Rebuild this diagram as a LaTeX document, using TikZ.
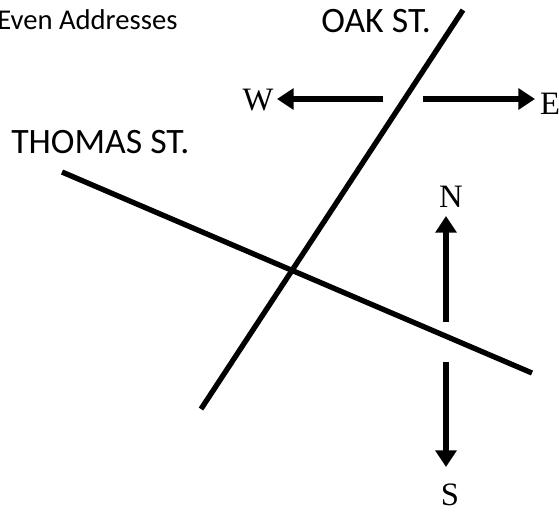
\documentclass[tikz,border=0pt]{standalone}
\usepackage{fontspec}
\setmainfont{Liberation Serif}
\newfontfamily\labelsans{Carlito}
\usetikzlibrary{arrows.meta}
\tikzset{
  road/.style={line width=4pt, line cap=butt},
  dirarrow/.style={line width=4.2pt, -{Triangle[length=12.5pt,width=15.5pt]}},
  streetlabel/.style={inner sep=0pt, anchor=base west, font=\labelsans\fontsize{26.8pt}{30pt}\selectfont},
  notelabel/.style={inner sep=0pt, anchor=base west, font=\labelsans\fontsize{21.5pt}{24pt}\selectfont},
  compass/.style={inner sep=0pt, anchor=base, font=\fontsize{24.5pt}{28pt}\selectfont}
}
\begin{document}
\begin{tikzpicture}[x=0.75pt,y=-0.75pt]
\useasboundingbox (0,0) rectangle (559,512);
% labels
\node[notelabel] (even) at (-3,29) {Even Addresses};
\node[streetlabel] (oak) at (321,32) {OAK ST.};
\node[streetlabel] (thomas) at (11,153) {THOMAS ST.};
\node[compass] (W) at (258,110) {W};
\node[compass] (E) at (550,114) {E};
\node[compass] (N) at (451,207) {N};
\node[compass] (S) at (450,505) {S};
% streets
\coordinate (oakN) at (463,10);
\coordinate (oakS) at (201,409);
\coordinate (thomW) at (62,172);
\coordinate (thomE) at (532,373);
\draw[road] (oakS) -- (oakN);
\draw[road] (thomW) -- (thomE);
% compass arrows
\coordinate (wstart) at (383,99);
\coordinate (wtip) at (277,99);
\coordinate (estart) at (423,99);
\coordinate (etip) at (535,99);
\coordinate (nstart) at (446,322);
\coordinate (ntip) at (446,216);
\coordinate (sstart) at (446,362);
\coordinate (stip) at (446,467);
\draw[dirarrow] (wstart) -- (wtip);
\draw[dirarrow] (estart) -- (etip);
\draw[dirarrow] (nstart) -- (ntip);
\draw[dirarrow] (sstart) -- (stip);
\end{tikzpicture}
\end{document}
